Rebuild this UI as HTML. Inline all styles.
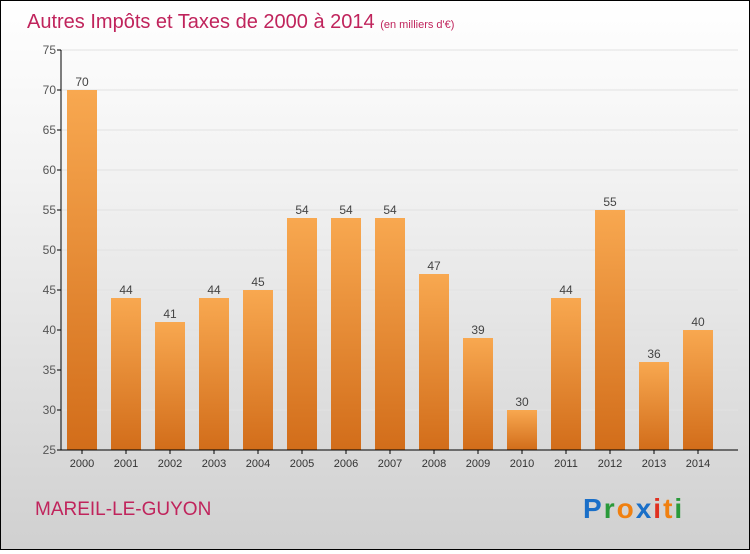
<!DOCTYPE html>
<html><head><meta charset="utf-8"><style>
body{margin:0}
#c{width:748px;height:548px;border:1px solid #000;background:linear-gradient(#fff,#f3f3f3 30%,#d0d0d0);position:relative;font-family:"Liberation Sans",sans-serif}
</style></head><body>
<div id="c">
<svg width="748" height="548">
<defs><linearGradient id="bg" x1="0" y1="0" x2="0" y2="1"><stop offset="0" stop-color="#f8a850"/><stop offset="1" stop-color="#d26d1a"/></linearGradient></defs>
<text x="26" y="27" font-size="20" fill="#c0245c">Autres Impôts et Taxes de 2000 à 2014 <tspan font-size="11" fill="#c0245c">(en milliers d'€)</tspan></text>
<g id="g"></g>
<text x="34" y="514" font-size="19" fill="#c0245c">MAREIL-LE-GUYON</text>
<text x="582" y="517" font-size="28" font-weight="bold" letter-spacing="2"><tspan fill="#1a6fc8">P</tspan><tspan fill="#2a9a3a">r</tspan><tspan fill="#f08010">o</tspan><tspan fill="#1a6fc8">x</tspan><tspan fill="#e03020">i</tspan><tspan fill="#f08010">t</tspan><tspan fill="#2a9a3a">i</tspan></text>
</svg></div>
<script>
const years=["2000","2001","2002","2003","2004","2005","2006","2007","2008","2009","2010","2011","2012","2013","2014"];
const values=[70,44,41,44,45,54,54,54,47,39,30,44,55,36,40];
const ticks=[25,30,35,40,45,50,55,60,65,70,75];
const NS="http://www.w3.org/2000/svg",g=document.getElementById('g');
const y=v=>449-(v-25)*8, x=i=>81+i*44;
function mk(t,a,txt){const e=document.createElementNS(NS,t);for(const k in a)e.setAttribute(k,a[k]);if(txt!=null)e.textContent=txt;g.appendChild(e);return e;}
ticks.forEach(t=>{
 const l=mk('line',{x1:60,x2:737,y1:y(t),y2:y(t),stroke:'#e2e2e2'});
 
 
 const k=mk('line',{x1:56,x2:60,y1:y(t),y2:y(t),stroke:'#000'});
 
 
 const tx=mk('text',{x:55,y:y(t)+4,'font-size':12,fill:'#555','text-anchor':'end'},t);
 
 
});
values.forEach((v,i)=>{
 const b=mk('rect',{x:x(i)-15,y:y(v),width:30,height:y(25)-y(v),fill:'url(#bg)'});
 
 
 const t=mk('text',{x:x(i),y:y(v)-4,'font-size':12,fill:'#444','text-anchor':'middle'},v);
 
 
 const xl=mk('text',{x:x(i),y:466,'font-size':11,fill:'#333','text-anchor':'middle'},years[i]);
 
 
 const xt=mk('line',{x1:x(i),x2:x(i),y1:449,y2:453,stroke:'#000'});
 
 
});
const ya=mk('line',{x1:60,x2:60,y1:y(75),y2:449,stroke:'#000'});


const xa=mk('line',{x1:60,x2:737,y1:449,y2:449,stroke:'#000'});


</script>
</body></html>
